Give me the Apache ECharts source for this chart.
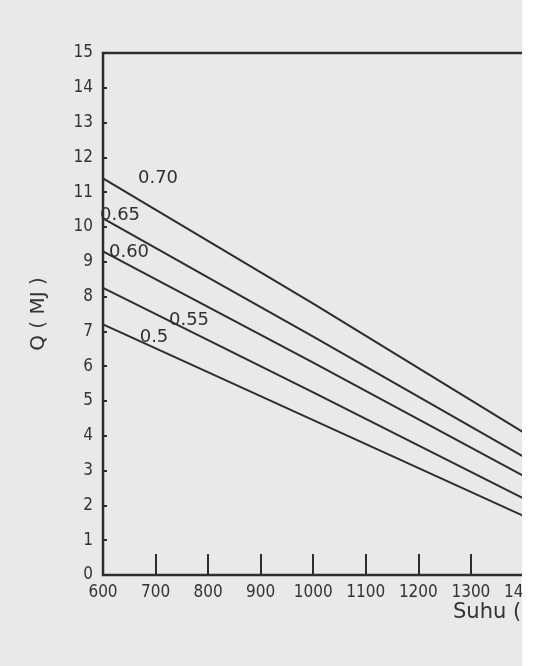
<!DOCTYPE html>
<html>
<head>
<meta charset="utf-8">
<script src="https://cdn.jsdelivr.net/npm/echarts@6/dist/echarts.min.js"></script>
<style>
  html, body { margin: 0; padding: 0; background: #e9e9e9; }
  #chart { width: 538px; height: 666px; }
</style>
</head>
<body>
<div id="chart"></div>
<script>
(function () {
  'use strict';

  // values (Q in MJ against Suhu in degrees C)
  const temperatures = [600, 1000, 1400];
  const curveNames = ['0.70', '0.65', '0.60', '0.55', '0.5'];
  const q070 = [11.4, 7.8, 4.1];
  const q065 = [10.25, 6.85, 3.4];
  const q060 = [9.3, 6.1, 2.85];
  const q055 = [8.25, 5.25, 2.2];
  const q050 = [7.2, 4.45, 1.7];
  const curveValues = [q070, q065, q060, q055, q050];

  // where each curve label sits relative to the curve start
  const labelOffsets = {
    '0.70': [55, 0],
    '0.65': [17, -3],
    '0.60': [26, 1],
    '0.55': [86, 32],
    '0.5': [51, 13]
  };

  const ink = '#2d2d2d';
  const tickFont = "'Liberation Sans Narrow', 'DejaVu Sans Condensed', sans-serif";

  const buildSeries = () =>
    curveNames.map((name, idx) => ({
      name,
      type: 'line',
      symbol: 'circle',
      symbolSize: 0,
      showSymbol: true,
      silent: true,
      lineStyle: { color: ink, width: 2 },
      data: temperatures.map((t, i) => {
        if (i > 0) return [t, curveValues[idx][i]];
        return {
          value: [t, curveValues[idx][i]],
          label: {
            show: true,
            position: 'inside',
            formatter: name,
            offset: labelOffsets[name],
            color: '#303030',
            fontFamily: 'DejaVu Sans',
            fontSize: 18
          }
        };
      })
    }));

  const chart = echarts.init(document.getElementById('chart'), null, { renderer: 'canvas' });

  const getDefaultOptions = () => ({
    backgroundColor: '#e9e9e9',
    animation: false,
    grid: {
      left: 103,
      width: 473,
      top: 53,
      height: 522,
      show: true,
      borderColor: ink,
      borderWidth: 2.5,
      containLabel: false,
      outerBoundsMode: 'none'
    },
    xAxis: {
      type: 'value',
      min: 600,
      max: 1500,
      interval: 100,
      axisLine: { show: true, lineStyle: { color: ink, width: 2 } },
      axisTick: { show: true, inside: true, length: 21, lineStyle: { color: ink, width: 2 } },
      splitLine: { show: false },
      axisLabel: {
        color: '#333',
        fontFamily: tickFont,
        fontSize: 17,
        margin: 9,
        formatter: v => String(v)
      }
    },
    yAxis: {
      type: 'value',
      min: 0,
      max: 15,
      interval: 1,
      name: 'Q ( MJ )',
      nameLocation: 'middle',
      nameGap: 54,
      nameTextStyle: {
        color: '#333',
        fontFamily: 'DejaVu Sans',
        fontSize: 20
      },
      axisLine: { show: true, lineStyle: { color: ink, width: 2 } },
      axisTick: { show: true, inside: true, length: 4, lineStyle: { color: ink, width: 2 } },
      splitLine: { show: false },
      axisLabel: {
        color: '#333',
        fontFamily: tickFont,
        fontSize: 17,
        margin: 10
      }
    },
    graphic: [
      {
        type: 'text',
        left: 453,
        top: 602,
        style: {
          text: 'Suhu (°C)',
          fill: '#333',
          font: "21px 'DejaVu Sans'"
        },
        z: 50
      },
      {
        // the scan stops here, the page edge is blank
        type: 'rect',
        left: 522,
        top: 0,
        shape: { width: 16, height: 666 },
        style: { fill: '#ffffff' },
        z: 100
      }
    ],
    series: buildSeries()
  });

  chart.setOption(getDefaultOptions());
})();
</script>
</body>
</html>
